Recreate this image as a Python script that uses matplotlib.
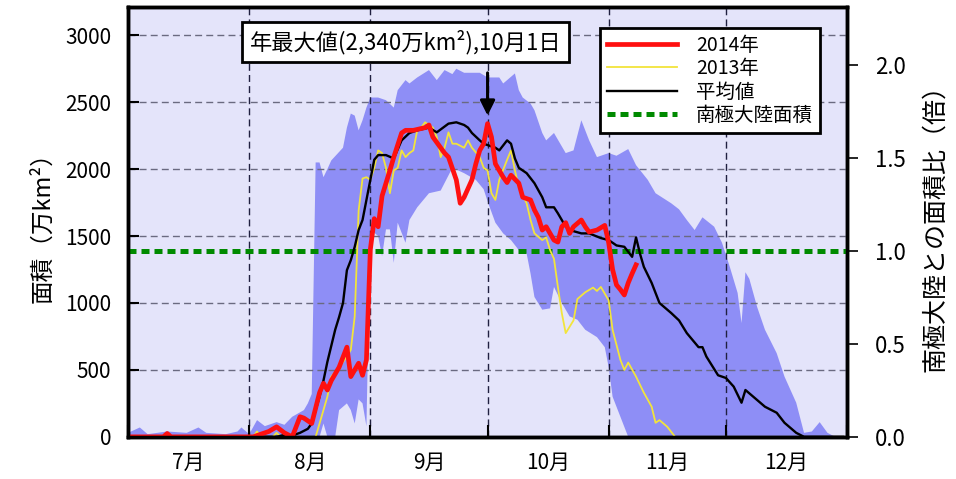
import matplotlib
matplotlib.use("Agg")
import matplotlib.pyplot as plt
import numpy as np

plt.rcParams["font.family"] = ["Noto Sans CJK JP", "DejaVu Sans"]

# x 軸は 7月1日 = 0 とした通日
month_starts = [0, 31, 62, 92, 123, 153, 184]
month_labels = ["7月", "8月", "9月", "10月", "11月", "12月"]
continent_area = 1390  # 南極大陸面積 (万km2)

# 2014年
days_2014 = [0, 9, 10, 11, 32, 34, 36, 38, 40, 42, 44, 45, 47, 49, 50, 51, 52, 54, 56, 57,
             59, 60, 61, 62, 63, 64, 65, 67, 68, 70, 71, 73, 76, 77, 78, 80, 81, 82, 84, 85,
             86, 88, 89, 90, 91, 92, 93, 94, 96, 97, 98, 100, 101, 103, 104, 105, 106, 107,
             109, 110, 111, 112, 113, 114, 116, 117, 118, 120, 122, 123, 124, 125, 126, 127,
             128, 129, 130]
area_2014 = [0, 0, 25, 0, 0, 20, 40, 75, 30, 0, 150, 140, 100, 330, 400, 350, 420, 520, 670, 450,
             550, 460, 575, 1400, 1630, 1570, 1800, 1990, 2090, 2270, 2290, 2290, 2310, 2330, 2240, 2160, 2120, 2090, 1920, 1745,
             1790, 1920, 2040, 2140, 2190, 2340, 2240, 2040, 1940, 1900, 1955, 1895, 1790, 1770, 1695, 1640, 1545, 1570,
             1470, 1455, 1570, 1600, 1520, 1570, 1620, 1570, 1530, 1545, 1580, 1450, 1250, 1135, 1100, 1060,
             1150, 1220, 1285]

# 2013年
days_2013 = [0, 32, 33, 34, 37, 38, 39, 48, 51, 52, 54, 56, 57, 58, 59, 60, 61, 62, 63, 64,
             65, 66, 67, 68, 69, 70, 71, 72, 73, 74, 75, 76, 77, 78, 79, 80, 81, 82, 83, 84,
             86, 87, 88, 90, 91, 92, 93, 94, 95, 97, 98, 99, 100, 102, 103, 104, 106, 107, 108, 109,
             110, 111, 112, 114, 115, 117, 119, 120, 121, 123, 124, 126, 127, 128, 130, 132, 134, 135, 136, 138,
             140, 183]
area_2013 = [0, 0, 40, 0, 0, 30, 0, 0, 300, 450, 520, 600, 650, 900, 1690, 1930, 1940, 1920, 2010, 2140,
             2120, 2010, 1820, 1990, 2010, 2140, 2090, 2120, 2140, 2290, 2310, 2350, 2330, 2310, 2240, 2090, 2160, 2275, 2190, 2190,
             2160, 2215, 2160, 2090, 2010, 1990, 1820, 1770, 1920, 2070, 2140, 1990, 1865, 1745, 1620, 1520, 1470, 1490, 1395, 1330,
             1120, 925, 775, 870, 1030, 1080, 1115, 1090, 1120, 1020, 800, 575, 500, 555, 450, 330, 225, 105, 125, 75,
             0, 0]

# 平均値
days_mean = [0, 38, 40, 42, 44, 46, 47, 48, 49, 50, 51, 52, 53, 54, 55, 56, 57, 58, 59, 60,
             61, 62, 63, 64, 66, 68, 70, 72, 74, 77, 79, 82, 84, 86, 87, 88, 90, 91, 94, 95,
             97, 98, 99, 100, 102, 104, 106, 107, 109, 110, 112, 113, 116, 118, 121, 123, 125, 127, 129, 130,
             131, 132, 134, 136, 139, 141, 143, 146, 147, 148, 151, 153, 155, 157, 158, 161, 163, 166, 168, 171,
             173, 183]
area_mean = [0, 0, 15, 10, 30, 60, 100, 200, 300, 420, 560, 680, 800, 895, 1000, 1245, 1320, 1420, 1545, 1620,
             1770, 1920, 2070, 2105, 2105, 2080, 2215, 2270, 2290, 2310, 2275, 2340, 2350, 2330, 2310, 2270, 2215, 2190, 2160, 2140,
             2215, 2190, 2080, 2010, 1970, 1895, 1790, 1715, 1715, 1670, 1570, 1545, 1520, 1520, 1485, 1470, 1430, 1420, 1345, 1490,
             1370, 1270, 1150, 1000, 925, 870, 775, 670, 670, 600, 460, 440, 375, 255, 350, 275, 225, 180, 105, 30,
             0, 0]

# 過去の最大値・最小値の範囲
days_max = [0, 3, 5, 10, 15, 18, 20, 25, 28, 29, 31, 33, 35, 38, 40, 42, 45, 46, 47, 48,
            49, 50, 51, 52, 55, 56, 57, 58, 59, 60, 61, 62, 64, 66, 68, 69, 71, 72, 74, 77,
            79, 81, 83, 84, 86, 90, 92, 95, 96, 99, 100, 101, 103, 104, 106, 107, 109, 112, 114, 116,
            118, 120, 123, 125, 128, 130, 133, 135, 139, 141, 143, 145, 147, 150, 152, 154, 156, 157, 158, 159,
            161, 163, 166, 168, 171, 173, 175, 177, 179, 181, 183]
area_max = [30, 70, 20, 40, 30, 70, 30, 20, 40, 70, 20, 125, 80, 110, 90, 150, 200, 250, 320, 2050,
            2050, 1940, 2000, 2065, 2160, 2310, 2415, 2400, 2290, 2365, 2460, 2535, 2535, 2515, 2460, 2590, 2665, 2640, 2685, 2740,
            2665, 2740, 2710, 2750, 2720, 2720, 2685, 2685, 2640, 2715, 2590, 2535, 2490, 2440, 2270, 2215, 2270, 2120, 2140, 2365,
            2215, 2090, 2120, 2100, 2150, 2030, 1920, 1820, 1745, 1700, 1620, 1545, 1640, 1570, 1450, 1270, 1075, 850, 1230, 1180,
            970, 800, 625, 450, 255, 30, 40, 110, 30, 0, 0]
days_min = [0, 49, 50, 51, 53, 54, 56, 57, 58, 59, 60, 61, 62, 64, 65, 66, 67, 68, 69, 71,
            72, 74, 77, 80, 83, 86, 89, 91, 92, 94, 96, 98, 100, 102, 103, 104, 106, 108, 109, 111,
            113, 115, 117, 120, 122, 123, 124, 126, 128, 183]
area_min = [0, 0, 100, 0, 0, 200, 250, 200, 100, 280, 250, 80, 1550, 1500, 1350, 1550, 1550, 1300, 1600, 1450,
            1620, 1715, 1820, 1840, 2010, 1970, 1920, 1850, 1760, 1600, 1520, 1470, 1395, 1370, 1220, 1045, 950, 960, 1120, 1000,
            900, 875, 800, 745, 670, 520, 300, 150, 0, 0]

fig, ax = plt.subplots(figsize=(9.56, 4.79), dpi=100)
fig.subplots_adjust(left=0.134, right=0.886, bottom=0.088, top=0.985)
ax.set_facecolor("#e4e4fa")

band_x = np.concatenate([days_max, days_min[::-1]])
band_y = np.concatenate([area_max, area_min[::-1]])
ax.fill(band_x, band_y, color="#8e8ef6", lw=0, zorder=1)

ax.axhline(continent_area, color="#008a00", lw=3.6, dashes=(1.6, 1.0), zorder=3,
           label="南極大陸面積")
ax.plot(days_2013, area_2013, color="#f2e43c", lw=1.3, zorder=4, label="2013年")
ax.plot(days_mean, area_mean, color="black", lw=1.7, zorder=5, label="平均値")
ax.plot(days_2014, area_2014, color="#ff1010", lw=3.4, zorder=6, label="2014年",
        solid_joinstyle="round")

ax.set_xlim(0, 183)
ax.set_ylim(0, 3210)
ax.set_xticks(month_starts)
ax.set_xticklabels([])
ax.set_xticks([(a + b) / 2 for a, b in zip(month_starts[:-1], month_starts[1:])], minor=True)
ax.set_xticklabels(month_labels, minor=True)
ax.tick_params(axis="x", which="major", direction="in", length=9, width=1.5)
ax.tick_params(axis="x", which="minor", length=0, labelsize=15, pad=11)
ax.set_yticks(np.arange(0, 3001, 500))
ax.tick_params(axis="y", direction="in", length=8, width=1.5, labelsize=15, pad=12,
               right=True)

ax.set_axisbelow(False)
ax.grid(axis="y", which="major", color="#6a6a80", ls=(0, (5, 3)), lw=1.0)
ax.grid(axis="x", which="major", color="#202040", ls=(0, (5, 3)), lw=1.0)
for s in ax.spines.values():
    s.set_linewidth(2.5)

ax.set_ylabel("面積（万km²）", fontsize=17, labelpad=8)

ax2 = ax.twinx()
ax2.set_ylim(0, 3210 / continent_area)
ax2.set_yticks(np.arange(0, 2.01, 0.5))
ax2.set_yticklabels([f"{v:.1f}" for v in np.arange(0, 2.01, 0.5)])
ax2.tick_params(axis="y", direction="out", length=8, width=1.2, labelsize=16, pad=12)
ax2.set_ylabel("南極大陸との面積比（倍）", fontsize=18, labelpad=12)
for s in ax2.spines.values():
    s.set_linewidth(2.5)

# 年最大値の注記
ax.text(71, 2950, "年最大値(2,340万km²),10月1日", fontsize=16, ha="center", va="center",
        zorder=8, bbox=dict(boxstyle="square,pad=0.35", fc="white", ec="black", lw=2))
ax.annotate("", xy=(92, 2380), xytext=(92, 2740),
            arrowprops=dict(arrowstyle="-|>", color="black", lw=2.2, mutation_scale=22),
            zorder=8)

handles, labels = ax.get_legend_handles_labels()
order = [3, 1, 2, 0]
leg = ax.legend([handles[i] for i in order], [labels[i] for i in order],
                loc="upper right", bbox_to_anchor=(0.976, 0.974), fontsize=14,
                frameon=True, fancybox=False, framealpha=1, edgecolor="black",
                handlelength=3.6, labelspacing=0.12, borderpad=0.35, handletextpad=1.0)
leg.get_frame().set_linewidth(2)
leg.set_zorder(9)

fig.savefig("out.png", dpi=100, facecolor="white")
